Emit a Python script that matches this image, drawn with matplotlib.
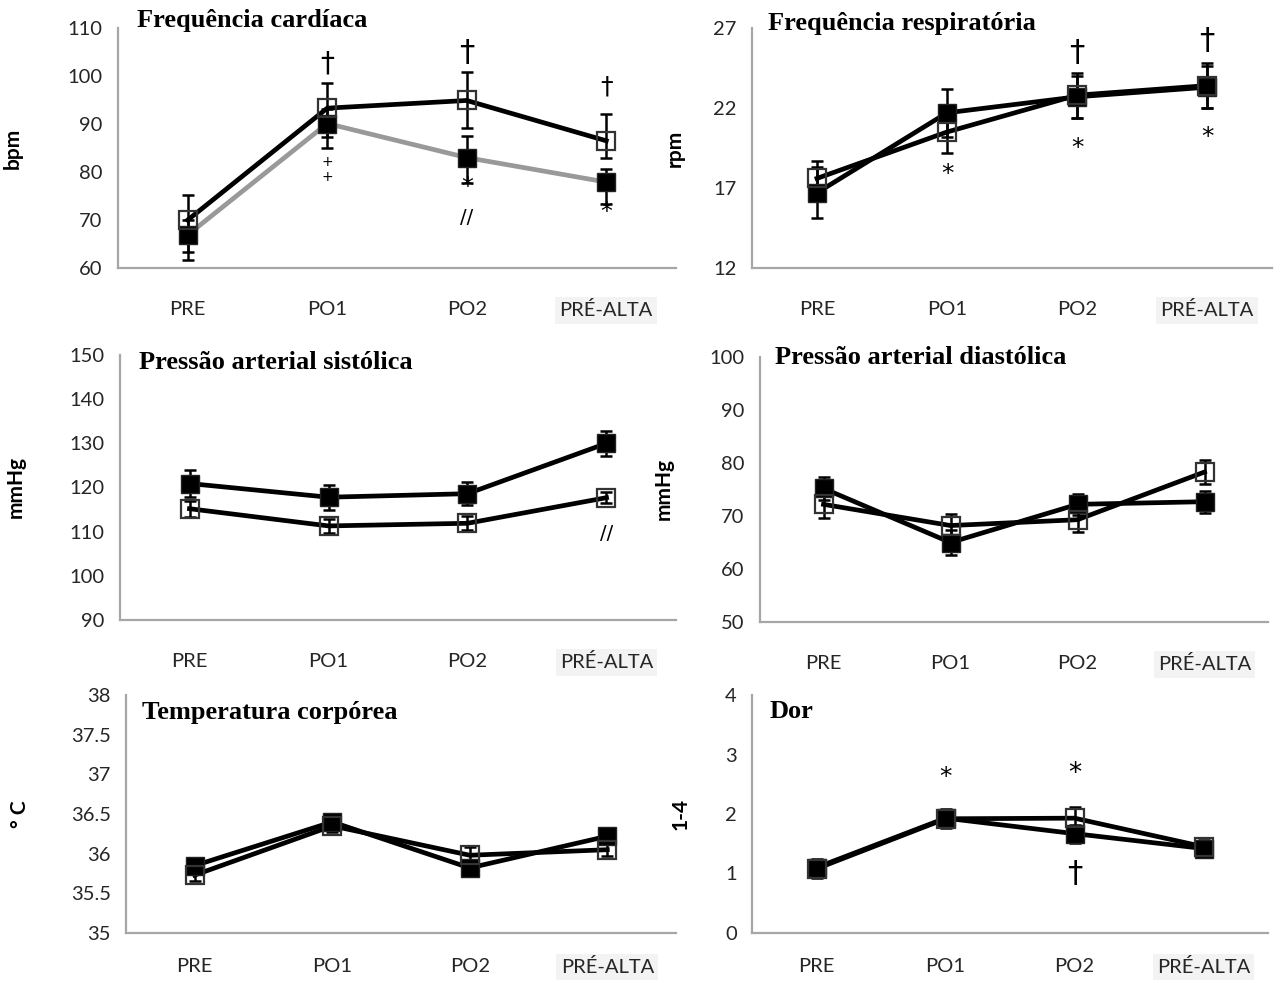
import numpy as np
from matplotlib import pyplot as plt

plt.rcParams['font.family'] = ['Lato', 'DejaVu Sans']
plt.rcParams['font.size'] = 14

categories = ['PRE', 'PO1', 'PO2', 'PRÉ-ALTA']

# Frequencia cardiaca (bpm)
hr_open = [70.0, 93.3, 94.9, 86.5]
hr_open_lo = [6.6, 6.0, 5.8, 3.5]
hr_open_hi = [5.2, 5.2, 5.9, 5.5]
hr_filled = [66.9, 90.1, 83.0, 77.9]
hr_filled_lo = [5.2, 5.2, 5.3, 4.6]
hr_filled_hi = [3.0, 3.0, 4.4, 2.7]

# Frequencia respiratoria (rpm)
rr_open = [17.6, 20.5, 22.8, 23.4]
rr_open_err = [1.1, 1.3, 1.4, 1.4]
rr_filled = [16.7, 21.7, 22.7, 23.3]
rr_filled_err = [1.6, 1.5, 1.3, 1.3]

# Pressao arterial sistolica (mmHg)
sbp_open = [115.2, 111.3, 111.9, 117.7]
sbp_open_err = [1.8, 1.6, 1.6, 1.3]
sbp_filled = [120.9, 117.8, 118.6, 130.0]
sbp_filled_err = [3.0, 2.8, 2.6, 2.9]

# Pressao arterial diastolica (mmHg)
dbp_open = [72.2, 68.2, 69.3, 78.3]
dbp_open_err = [2.6, 2.2, 2.3, 2.3]
dbp_filled = [75.2, 65.0, 72.2, 72.7]
dbp_filled_err = [2.2, 2.4, 2.0, 2.1]

# Temperatura corporea (C)
temp_open = [35.73, 36.35, 35.98, 36.05]
temp_open_err = [0.07, 0.08, 0.10, 0.08]
temp_filled = [35.85, 36.40, 35.82, 36.22]
temp_filled_err = [0.10, 0.10, 0.10, 0.10]

# Dor (1-4)
pain_open = [1.08, 1.92, 1.93, 1.45]
pain_open_err = [0.15, 0.15, 0.18, 0.12]
pain_filled = [1.10, 1.93, 1.67, 1.42]
pain_filled_err = [0.15, 0.15, 0.15, 0.12]

# significance marks: (category index, y, symbol, size)
hr_marks = [(1, 102.6, '†', 20), (1, 82.0, '+', 10), (1, 79.0, '+', 10),
            (2, 104.8, '†', 22), (2, 76.9, '*', 17), (2, 70.5, '//', 14),
            (3, 97.8, '†', 18), (3, 71.7, '*', 17)]
rr_marks = [(1, 17.9, '*', 18), (2, 25.5, '†', 22), (2, 19.5, '*', 18),
            (3, 26.2, '†', 22), (3, 20.2, '*', 18)]
sbp_marks = [(3, 109.6, '//', 14)]
pain_marks = [(1, 2.62, '*', 18), (2, 2.68, '*', 19), (2, 1.0, '†', 22)]

W, H = 1282, 983
fig = plt.figure(figsize=(W / 100, H / 100), dpi=100)


def px_axes(l, t, r, b):
    return fig.add_axes([l / W, 1 - b / H, (r - l) / W, (b - t) / H])


def panel(ax, title, title_xy, ylabel, ylab_x, ylim, yticks, yticklabels,
          open_y, open_err, filled_y, filled_err, marks, filled_color='black',
          xpad=24):
    x = np.arange(len(categories))
    ax.plot(x, filled_y, color=filled_color, lw=3.4, zorder=2)
    ax.plot(x, open_y, color='black', lw=3.4, zorder=2)
    ax.errorbar(x, open_y, yerr=open_err, fmt='none', ecolor='black',
                elinewidth=1.8, capsize=4.5, capthick=1.8, zorder=2.5)
    ax.errorbar(x, filled_y, yerr=filled_err, fmt='none', ecolor='black',
                elinewidth=1.8, capsize=4.5, capthick=1.8, zorder=2.5)
    ax.plot(x, filled_y, 's', ms=13.5, color='black', mec='#222222', zorder=3)
    ax.plot(x, open_y, 's', ms=13.5, mfc='none', mec='#333333', mew=1.6, zorder=3)
    for i, yv, sym, sz in marks:
        ax.text(x[i], yv, sym, ha='center', va='center', fontsize=sz,
                family='DejaVu Sans', zorder=4)

    ax.set_xlim(-0.5, 3.5)
    ax.set_ylim(*ylim)
    ax.set_yticks(yticks)
    ax.set_yticklabels(yticklabels)
    ax.set_xticks(x)
    ax.set_xticklabels(categories)
    ax.tick_params(length=0, labelsize=14.5, labelcolor='#262626')
    ax.tick_params(axis='x', pad=xpad)
    ax.tick_params(axis='y', pad=11)
    ax.get_xticklabels()[-1].set_bbox(dict(facecolor='#f3f3f3', edgecolor='none',
                                           pad=3))
    for s in ['top', 'right']:
        ax.spines[s].set_visible(False)
    for s in ['left', 'bottom']:
        ax.spines[s].set_color('#a6a6a6')
        ax.spines[s].set_linewidth(1.6)

    ax.set_ylabel(ylabel, fontsize=15, fontweight='bold')
    ax.yaxis.set_label_coords(ylab_x, 0.5)
    ax.text(title_xy[0], title_xy[1], title, transform=ax.transAxes,
            family='Liberation Serif', fontweight='bold', fontsize=19,
            ha='left', va='center')


ax1 = px_axes(118, 28, 676, 268)
panel(ax1, 'Frequência cardíaca', (0.034, 1.033), 'bpm', -0.17, (60, 110),
      [60, 70, 80, 90, 100, 110], ['60', '70', '80', '90', '100', '110'],
      hr_open, [hr_open_lo, hr_open_hi], hr_filled, [hr_filled_lo, hr_filled_hi],
      hr_marks, filled_color='#999999')

ax2 = px_axes(752, 28, 1272, 268)
panel(ax2, 'Frequência respiratória', (0.03, 1.02), 'rpm', -0.13, (12, 27),
      [12, 17, 22, 27], ['12', '17', '22', '27'],
      rr_open, rr_open_err, rr_filled, rr_filled_err, rr_marks)

ax3 = px_axes(120, 355, 676, 620)
panel(ax3, 'Pressão arterial sistólica', (0.034, 0.97), 'mmHg', -0.17, (90, 150),
      [90, 100, 110, 120, 130, 140, 150],
      ['90', '100', '110', '120', '130', '140', '150'],
      sbp_open, sbp_open_err, sbp_filled, sbp_filled_err, sbp_marks)

ax4 = px_axes(760, 357, 1268, 622)
panel(ax4, 'Pressão arterial diastólica', (0.03, 1.0), 'mmHg', -0.17, (50, 100),
      [50, 60, 70, 80, 90, 100], ['50', '60', '70', '80', '90', '100'],
      dbp_open, dbp_open_err, dbp_filled, dbp_filled_err, [])

ax5 = px_axes(126, 695, 676, 933)
panel(ax5, 'Temperatura corpórea', (0.03, 0.925), '° C', -0.175, (35, 38),
      [35, 35.5, 36, 36.5, 37, 37.5, 38],
      ['35', '35.5', '36', '36.5', '37', '37.5', '38'],
      temp_open, temp_open_err, temp_filled, temp_filled_err, [], xpad=18)

ax6 = px_axes(752, 695, 1268, 933)
panel(ax6, 'Dor', (0.035, 0.93), '1-4', -0.12, (0, 4),
      [0, 1, 2, 3, 4], ['0', '1', '2', '3', '4'],
      pain_open, pain_open_err, pain_filled, pain_filled_err, pain_marks, xpad=18)

plt.savefig('out.png', dpi=100)
